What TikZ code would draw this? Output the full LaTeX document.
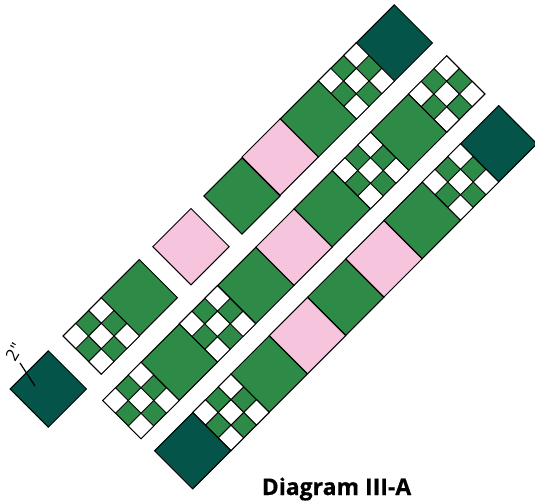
\documentclass[tikz,border=0pt]{standalone}
\usepackage{fontspec}
\setmainfont{Open Sans}
\newfontfamily\captionfont[FakeBold=0.6]{Open Sans Bold}
\usetikzlibrary{positioning}
\definecolor{quiltgreen}{HTML}{2E8B47}
\definecolor{quiltdark}{HTML}{04544A}
\definecolor{quiltpink}{HTML}{F6C4DC}

\begin{document}
\begin{tikzpicture}[x=1pt, y=-1pt,
        block/.style={rectangle, draw, line width=1pt, rotate=45, minimum size=54pt, inner sep=0pt},
        greenblock/.style={block, fill=quiltgreen},
        darkblock/.style={block, fill=quiltdark},
        pinkblock/.style={block, fill=quiltpink},
        cell/.style={block, fill=white, minimum size=18pt},
        ninepatch/.pic={
            \node[greenblock] (-base) at (0, 0) {};
            \node[cell] (-top) at (0, -25.5) {};
            \node[cell] (-left) at (-25.5, 0) {};
            \node[cell] (-mid) at (0, 0) {};
            \node[cell] (-right) at (25.5, 0) {};
            \node[cell] (-bottom) at (0, 25.5) {};
        }]
        \useasboundingbox (0, 0) rectangle (535, 501);

        % Top strip
        \node[darkblock] (dark1) at (394.3, 43) {};
        \pic (nine1) at (356.3, 81) {ninepatch};
        \node[greenblock] (green1) at (318.3, 119) {};
        \node[pinkblock] (pink1) at (280.2, 157) {};
        \node[greenblock] (green2) at (242, 196) {};

        % Loose pieces
        \node[pinkblock] (pink2) at (191, 246.7) {};
        \node[greenblock] (green3) at (139.3, 297.7) {};
        \pic (nine2) at (101.3, 336) {ninepatch};
        \node[darkblock] (dark2) at (48.3, 389) {};

        % Middle strip
        \pic (nine3) at (446.7, 94) {ninepatch};
        \node[greenblock] (green4) at (408.5, 132.3) {};
        \pic (nine4) at (370.5, 170.5) {ninepatch};
        \node[greenblock] (green5) at (332.2, 208.8) {};
        \node[pinkblock] (pink3) at (294, 247.2) {};
        \node[greenblock] (green6) at (255.8, 285.5) {};
        \pic (nine5) at (217.5, 323.8) {ninepatch};
        \node[greenblock] (green7) at (179.3, 362.2) {};
        \pic (nine6) at (141, 400.5) {ninepatch};

        % Bottom strip
        \node[darkblock] (dark3) at (498.7, 143.7) {};
        \pic (nine7) at (460.5, 182) {ninepatch};
        \node[greenblock] (green8) at (422.2, 220.4) {};
        \node[pinkblock] (pink4) at (384, 258.8) {};
        \node[greenblock] (green9) at (345.7, 297.2) {};
        \node[pinkblock] (pink5) at (307.5, 335.6) {};
        \node[greenblock] (green10) at (269.2, 374) {};
        \pic (nine8) at (231, 412.4) {ninepatch};
        \node[darkblock] (dark4) at (192.7, 450.8) {};

        % Size label and caption
        \node[rotate=60, font=\fontsize{17}{17}\selectfont, inner sep=0pt] (size) at (14, 352) {2″};
        \coordinate (tick) at (35, 386);
        \draw[line width=1.2pt] (20, 363) -- (tick);
        \node[font=\fontsize{23}{23}\selectfont\captionfont, inner sep=0pt, anchor=base] (caption) at (336.5, 495) {Diagram III-A};
    \end{tikzpicture}
\end{document}
